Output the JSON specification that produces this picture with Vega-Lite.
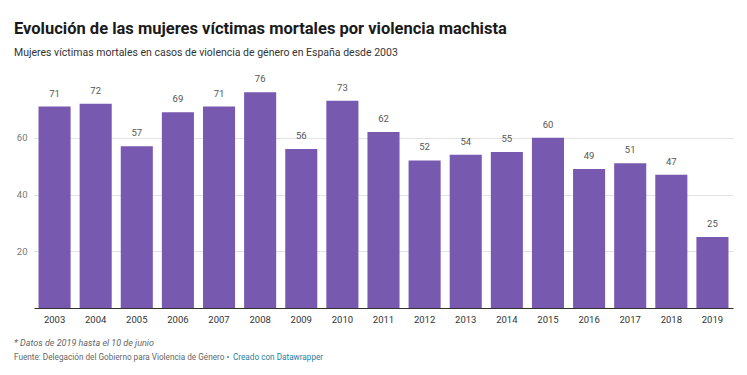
{
  "$schema": "https://vega.github.io/schema/vega-lite/v6.json",
  "width": 699,
  "height": 227,
  "autosize": {"type": "none"},
  "padding": {"left": 34, "top": 81, "right": 14, "bottom": 67},
  "background": "white",
  "config": {"font": "Roboto", "view": {"stroke": null}},
  "title": {
    "text": "Evolución de las mujeres víctimas mortales por violencia machista",
    "subtitle": "Mujeres víctimas mortales en casos de violencia de género en España desde 2003",
    "anchor": "start",
    "frame": "group",
    "dx": -20,
    "offset": 16,
    "fontSize": 16.5,
    "fontWeight": "bold",
    "color": "#1a1a1a",
    "subtitleFontSize": 10.5,
    "subtitleColor": "#333333",
    "subtitlePadding": 10
  },
  "data": {"values": [
    {"year": "2003", "v": 71}, {"year": "2004", "v": 72}, {"year": "2005", "v": 57},
    {"year": "2006", "v": 69}, {"year": "2007", "v": 71}, {"year": "2008", "v": 76},
    {"year": "2009", "v": 56}, {"year": "2010", "v": 73}, {"year": "2011", "v": 62},
    {"year": "2012", "v": 52}, {"year": "2013", "v": 54}, {"year": "2014", "v": 55},
    {"year": "2015", "v": 60}, {"year": "2016", "v": 49}, {"year": "2017", "v": 51},
    {"year": "2018", "v": 47}, {"year": "2019", "v": 25}
  ]},
  "encoding": {
    "x": {"field": "year", "type": "ordinal",
      "scale": {"paddingInner": 0.22, "paddingOuter": 0.11},
      "axis": {"title": null, "labelAngle": 0, "ticks": false, "domainColor": "#333333", "labelColor": "#333333", "labelFontSize": 9.5, "labelPadding": 6, "grid": false}},
    "y": {"field": "v", "type": "quantitative",
      "scale": {"domain": [0, 80], "nice": false},
      "axis": {"title": null, "values": [20, 40, 60], "ticks": false, "domain": false, "labelColor": "#777777", "labelFontSize": 9.5, "labelPadding": 7, "gridColor": "#e3e3e3"}}
  },
  "layer": [
    {"mark": {"type": "bar", "color": "#7759b0"}},
    {"mark": {"type": "text", "baseline": "bottom", "dy": -8, "fontSize": 9.5, "color": "#555555"},
     "encoding": {"text": {"field": "v", "type": "quantitative"}}},
    {"data": {"values": [{"t": "* Datos de 2019 hasta el 10 de junio"}]},
     "mark": {"type": "text", "align": "left", "baseline": "middle", "x": -20, "y": 262, "fontSize": 9, "fontStyle": "italic", "color": "#666666"},
     "encoding": {"text": {"field": "t"}, "x": null, "y": null}},
    {"data": {"values": [{"t": "Fuente: Delegación del Gobierno para Violencia de Género •"}]},
     "mark": {"type": "text", "align": "left", "baseline": "middle", "x": -20, "y": 277, "fontSize": 8.2, "color": "#666666"},
     "encoding": {"text": {"field": "t"}, "x": null, "y": null}},
    {"data": {"values": [{"t": "Creado con Datawrapper"}]},
     "mark": {"type": "text", "align": "left", "baseline": "middle", "x": 199, "y": 277, "fontSize": 8.2, "color": "#1d81a2"},
     "encoding": {"text": {"field": "t"}, "x": null, "y": null}}
  ]
}
